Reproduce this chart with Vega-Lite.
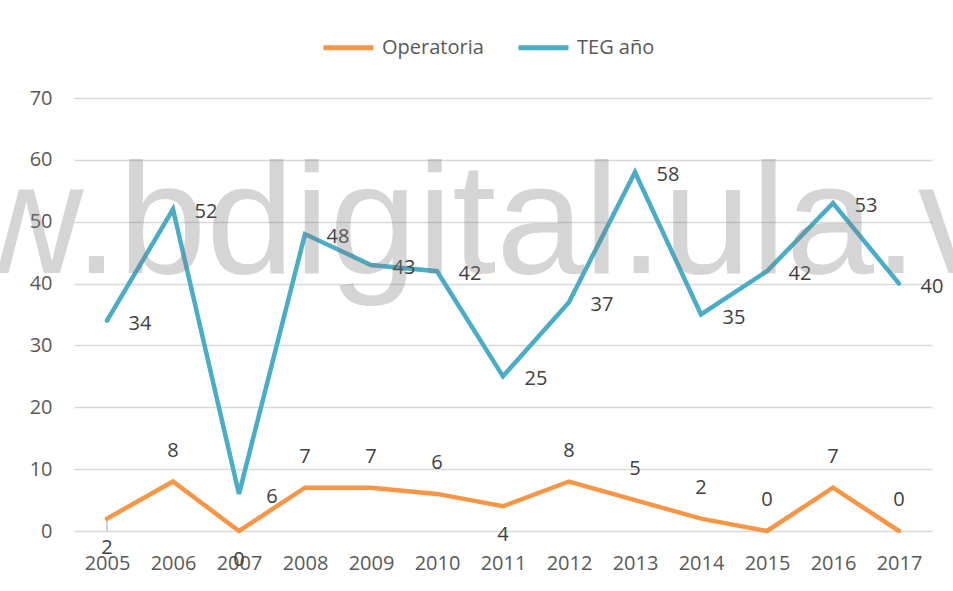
{
  "$schema": "https://vega.github.io/schema/vega-lite/v6.json",
  "width": 858,
  "height": 433,
  "autosize": {"type": "none"},
  "padding": {"left": 74, "top": 98, "right": 21, "bottom": 60},
  "background": "white",
  "config": {
    "view": {"stroke": null},
    "font": "Open Sans",
    "axis": {"labelFont": "Open Sans", "labelFontSize": 20, "labelColor": "#595959", "domain": false, "ticks": false, "title": null},
    "legend": {"labelFont": "Open Sans"}
  },
  "data": {
    "values": [
      {"year": "2005", "serie": "Operatoria", "value": 2},
      {"year": "2006", "serie": "Operatoria", "value": 8},
      {"year": "2007", "serie": "Operatoria", "value": 0},
      {"year": "2008", "serie": "Operatoria", "value": 7},
      {"year": "2009", "serie": "Operatoria", "value": 7},
      {"year": "2010", "serie": "Operatoria", "value": 6},
      {"year": "2011", "serie": "Operatoria", "value": 4},
      {"year": "2012", "serie": "Operatoria", "value": 8},
      {"year": "2013", "serie": "Operatoria", "value": 5},
      {"year": "2014", "serie": "Operatoria", "value": 2},
      {"year": "2015", "serie": "Operatoria", "value": 0},
      {"year": "2016", "serie": "Operatoria", "value": 7},
      {"year": "2017", "serie": "Operatoria", "value": 0},
      {"year": "2005", "serie": "TEG año", "value": 34},
      {"year": "2006", "serie": "TEG año", "value": 52},
      {"year": "2007", "serie": "TEG año", "value": 6},
      {"year": "2008", "serie": "TEG año", "value": 48},
      {"year": "2009", "serie": "TEG año", "value": 43},
      {"year": "2010", "serie": "TEG año", "value": 42},
      {"year": "2011", "serie": "TEG año", "value": 25},
      {"year": "2012", "serie": "TEG año", "value": 37},
      {"year": "2013", "serie": "TEG año", "value": 58},
      {"year": "2014", "serie": "TEG año", "value": 35},
      {"year": "2015", "serie": "TEG año", "value": 42},
      {"year": "2016", "serie": "TEG año", "value": 53},
      {"year": "2017", "serie": "TEG año", "value": 40}
    ]
  },
  "encoding": {
    "x": {
      "field": "year", "type": "ordinal",
      "scale": {"type": "point", "padding": 0.5},
      "axis": {"labelAngle": 0, "labelPadding": 22, "grid": false}
    },
    "y": {
      "field": "value", "type": "quantitative",
      "scale": {"domain": [0, 70], "nice": false, "zero": true},
      "axis": {"values": [0, 10, 20, 30, 40, 50, 60, 70], "grid": true, "gridColor": "#d9d9d9", "gridWidth": 1.3, "labelPadding": 22}
    }
  },
  "layer": [
    {
      "transform": [{"filter": "datum.year == '2005' && datum.serie == 'Operatoria'"}],
      "mark": {"type": "rule", "color": "#a6a6a6", "strokeWidth": 1},
      "encoding": {"y2": {"datum": 0}}
    },
    {
      "mark": {"type": "line", "strokeWidth": 4.5, "strokeCap": "round", "strokeJoin": "miter"},
      "encoding": {
        "color": {
          "field": "serie", "type": "nominal",
          "scale": {"domain": ["Operatoria", "TEG año"], "range": ["#f79646", "#4bacc6"]},
          "legend": {
            "title": null, "orient": "none", "direction": "horizontal",
            "legendX": 247, "legendY": -78,
            "symbolType": "stroke", "symbolStrokeWidth": 5, "symbolSize": 2500,
            "labelFontSize": 20, "labelColor": "#595959", "labelOffset": 6, "columnPadding": 24
          }
        }
      }
    },
    {
      "transform": [{"filter": "datum.serie == 'Operatoria' && datum.year != '2005' && datum.year != '2007' && datum.year != '2011'"}],
      "mark": {"type": "text", "fontSize": 20, "color": "#404040", "dy": -31, "baseline": "middle"},
      "encoding": {"text": {"field": "value", "type": "quantitative"}}
    },
    {
      "transform": [{"filter": "datum.serie == 'Operatoria' && (datum.year == '2005' || datum.year == '2007' || datum.year == '2011')"}],
      "mark": {"type": "text", "fontSize": 20, "color": "#404040", "dy": 29, "baseline": "middle"},
      "encoding": {"text": {"field": "value", "type": "quantitative"}}
    },
    {
      "transform": [{"filter": "datum.serie == 'TEG año'"}],
      "mark": {"type": "text", "fontSize": 20, "color": "#404040", "dx": 33, "dy": 3, "baseline": "middle"},
      "encoding": {"text": {"field": "value", "type": "quantitative"}}
    },
    {
      "data": {"values": [{"wm": "w.bdigital.ula.v", "year": "2011", "value": 41.7}]},
      "mark": {"type": "text", "font": "Liberation Sans", "fontSize": 158, "color": "#7f7f7f", "opacity": 0.32, "align": "center", "baseline": "alphabetic", "dx": -20},
      "encoding": {"text": {"field": "wm", "type": "nominal"}}
    }
  ]
}
